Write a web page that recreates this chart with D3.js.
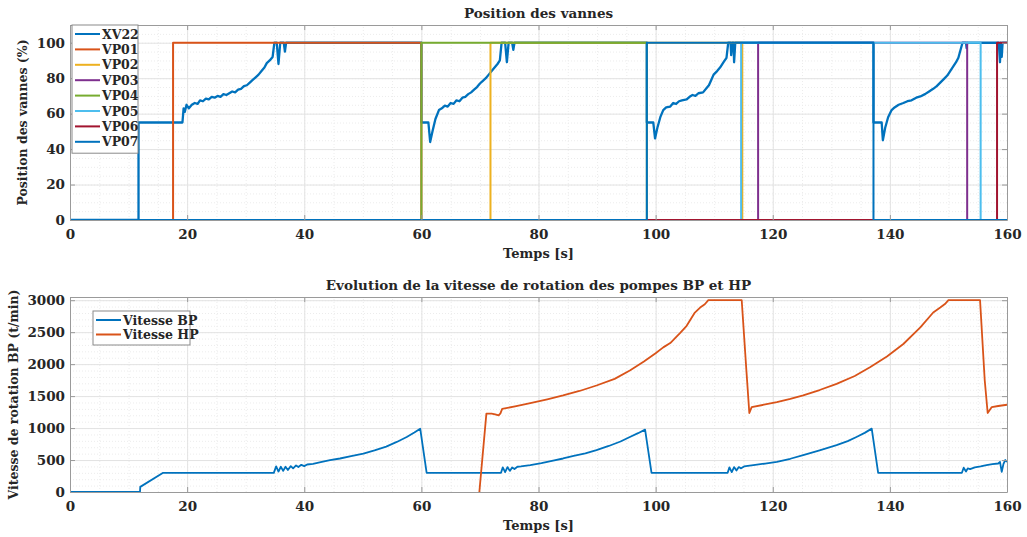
<!DOCTYPE html>
<html>
<head>
<meta charset="utf-8">
<script src="https://cdnjs.cloudflare.com/ajax/libs/d3/7.8.5/d3.min.js"></script>
<style>
    body { margin: 0; background: #fff; }
    text { font-family: "DejaVu Serif", serif; font-weight: bold; fill: #262626; }
    .grid-major line { stroke: #e3e3e3; stroke-width: 1; }
    .grid-minor line { stroke: #ececec; stroke-width: 1; stroke-dasharray: 1,2; }
    .axis path, .axis line { stroke: #9a9a9a; }
</style>
</head>
<body>
<div id="chart"></div>
<script>

// ---- top plot : valve positions [t (s), position (%)] ----
var xv22 = [[0,0],[11.7,0],[11.7,55],[19.2,55],[19.4,63],[19.6,61],[19.9,65],[20.3,63],[20.8,65],[21.3,66],[21.8,65.5],
    [22.2,67.5],[22.7,67],[23.2,68.5],[23.7,68],[24.2,69.5],[24.7,69],[25.2,70],[25.7,69.5],[26.2,71],[26.7,70.5],
    [27.2,71.5],[27.7,72.5],[28.2,72],[28.7,73.5],[29.2,74],[29.7,75.5],[30.2,76],[30.7,77.5],[31.2,79],[31.7,80.5],
    [32.2,82],[32.7,84],[33.2,86],[33.6,88.5],[34.1,90],[34.6,92],[34.9,100],[35.3,100],[35.6,88],[35.9,100],[36.5,100],
    [36.7,95],[36.9,100],[60,100],[60,55],[61.2,55],[61.5,44],[61.9,50],[62.4,57],[63,62],[63.5,63],[64,64.5],[64.5,64],
    [65,66],[65.5,65.5],[66,67.5],[66.5,67],[67,69],[67.5,69.5],[68,71],[68.5,72],[69,73.5],[69.5,75],[70,77],[70.5,78.5],
    [71,80],[71.5,82],[72,84],[72.5,86],[73,88],[73.4,90],[73.7,100],[74.3,100],[74.6,89],[74.9,100],[75.5,100],[75.7,96],
    [75.9,100],[98.5,100],[98.5,55],[99.6,55],[99.9,46],[100.3,52],[100.8,58],[101.3,62],[101.8,63.5],[102.5,64],[103,66],
    [103.5,65.5],[104,67],[104.5,67.5],[105.3,68],[105.8,69.5],[106.3,70.5],[106.8,70],[107.3,71.5],[108.1,72],[108.6,74],
    [109.1,76],[109.5,79],[109.9,82],[110.5,84],[111,86],[111.6,89],[112.1,91.5],[112.4,100],[112.8,100],[112.9,93],
    [113.1,100],[113.3,100],[113.4,89],[113.6,100],[137.2,100],[137.2,55],[138.6,55],[138.8,45],[139.2,52],[139.7,58],
    [140.3,62],[140.8,63.5],[141.5,65],[142.3,66],[143,67],[143.7,67.5],[144.5,69],[145.2,69.7],[146,71],[146.7,72.5],
    [147.4,74],[148,75.5],[148.6,77.5],[149.2,79.5],[149.8,81.5],[150.3,84],[150.8,86.5],[151.3,89],[151.7,91.5],
    [152.4,100],[153,100],[153.1,97],[153.2,100],[158.6,100],[158.8,89],[158.95,100],[159.1,92],[159.25,100],[160,100]];
var vp01 = [[0,0],[17.6,0],[17.6,100],[60,100],[60,0],[160,0]];
var vp02 = [[0,0],[71.8,0],[71.8,100],[114.8,100],[114.8,0],[160,0]];
var vp03 = [[0,0],[117.5,0],[117.5,100],[153.2,100],[153.2,0],[160,0]];
var vp04 = [[0,0],[60,0],[60,100],[98.5,100],[98.5,0],[160,0]];
var vp05 = [[0,0],[114.6,0],[114.6,100],[155.5,100],[155.5,0],[160,0]];
var vp06 = [[0,0],[158.3,0],[158.3,100],[160,100]];
var vp07 = [[0,0],[98.5,0],[98.5,100],[137.2,100],[137.2,0],[160,0]];

var valveNames = ["XV22", "VP01", "VP02", "VP03", "VP04", "VP05", "VP06", "VP07"];
var valveSeries = [xv22, vp01, vp02, vp03, vp04, vp05, vp06, vp07];

// ---- bottom plot : pump speeds [t (s), speed (t/min)] ----
var vitesseBP = [[0,0],[11.95,0],[12,80],[15.9,300],[34.8,300],[35.2,400],[35.6,320],[36,395],[36.4,330],[36.8,395],
    [37.2,345],[37.7,405],[38.1,370],[38.6,415],[39,390],[39.5,425],[40,405],[40.5,430],[41.5,440],[43,470],[44.4,498],
    [46.1,524],[48,560],[50.1,602],[52,650],[54,710],[55.8,783],[57.5,860],[58.8,930],[59.8,990],[60.9,300],[73.6,300],
    [73.9,385],[74.3,310],[74.7,390],[75.1,330],[75.5,385],[75.9,360],[76.4,395],[77,400],[78.6,420],[80.5,450],
    [82.5,490],[84.2,524],[86,565],[88,605],[89.9,654],[92,720],[94,790],[95.6,861],[97,920],[98.2,976],[99.3,300],
    [112.3,300],[112.6,385],[113,310],[113.4,390],[113.8,335],[114.2,390],[114.6,370],[115.1,400],[116.7,420],
    [118.7,445],[120.7,472],[123,520],[125.2,576],[128,650],[130.9,732],[132.8,795],[134.3,861],[135.7,925],
    [136.9,991],[138,300],[152.3,300],[152.6,380],[153,320],[153.3,370],[153.7,358],[154.5,385],[155.5,400],
    [156.5,420],[157.5,435],[158.5,446],[158.8,470],[159.1,316],[159.4,440],[159.7,500],[160,470]];
var vitesseHP = [[69.9,0],[71.1,1225],[72,1225],[72.6,1215],[73.2,1200],[73.5,1230],[73.8,1300],[76,1340],[78.6,1391],
    [81.5,1450],[84.2,1510],[87,1580],[89.9,1666],[93,1770],[95.6,1900],[98,2040],[100,2170],[101.3,2262],[102.5,2330],
    [104.2,2490],[105.3,2600],[106.7,2807],[107.6,2885],[108.4,2937],[109,3000],[114.7,3000],[115.5,1900],[116,1235],
    [116.4,1328],[118.5,1365],[120.7,1406],[123,1455],[125.2,1510],[128,1595],[130.9,1692],[134,1815],[136.6,1951],
    [139.5,2120],[142.3,2315],[145.2,2574],[147.4,2807],[148.6,2885],[149.4,2940],[150,3000],[155.4,3000],
    [156.2,1744],[156.7,1235],[157.4,1328],[158.5,1345],[160,1365]];

var pumpNames = ["Vitesse BP", "Vitesse HP"];
var pumpSeries = [vitesseBP, vitesseHP];

var xTicks = [0, 20, 40, 60, 80, 100, 120, 140, 160];
var valveTicks = [0, 20, 40, 60, 80, 100];
var pumpTicks = [0, 500, 1000, 1500, 2000, 2500, 3000];

// matlab default line colours
var colors = ["#0072BD", "#D95319", "#EDB120", "#7E2F8E", "#77AC30", "#4DBEEE", "#A2142F", "#0072BD"];

var svg = d3.select("#chart").append("svg")
    .attr("width", 1027)
    .attr("height", 537);

function drawPlot(cfg) {
    var g = svg.append("g")
        .attr("transform", "translate(" + cfg.left + "," + cfg.top + ")");

    var x = d3.scaleLinear().domain([0, 160]).range([0, cfg.width]);
    var y = d3.scaleLinear().domain(cfg.yDomain).range([cfg.height, 0]);

    // minor grid
    g.append("g").attr("class", "grid-minor")
        .call(d3.axisBottom(x).tickValues(d3.range(0, 161, 5)).tickSize(-cfg.height).tickFormat(""))
        .attr("transform", "translate(0," + cfg.height + ")")
        .select(".domain").remove();
    g.append("g").attr("class", "grid-minor")
        .call(d3.axisLeft(y).tickValues(d3.range(0, cfg.yDomain[1], cfg.yMinor)).tickSize(-cfg.width).tickFormat(""))
        .select(".domain").remove();

    // major grid
    g.append("g").attr("class", "grid-major")
        .call(d3.axisBottom(x).tickValues(xTicks).tickSize(-cfg.height).tickFormat(""))
        .attr("transform", "translate(0," + cfg.height + ")")
        .select(".domain").remove();
    g.append("g").attr("class", "grid-major")
        .call(d3.axisLeft(y).tickValues(cfg.yTicks).tickSize(-cfg.width).tickFormat(""))
        .select(".domain").remove();

    // clip
    var clipId = "clip-" + cfg.top;
    g.append("clipPath").attr("id", clipId)
        .append("rect").attr("width", cfg.width).attr("height", cfg.height);

    var line = d3.line()
        .x(function(d) { return x(d[0]); })
        .y(function(d) { return y(d[1]); });

    var lines = g.append("g").attr("clip-path", "url(#" + clipId + ")");
    cfg.series.forEach(function(s, i) {
        lines.append("path")
            .datum(s)
            .attr("fill", "none")
            .attr("stroke", cfg.colors[i])
            .attr("stroke-width", cfg.strokes[i])
            .attr("stroke-linejoin", "round")
            .attr("d", line);
    });

    // axes (ticks inside, box all round)
    g.append("g").attr("class", "axis")
        .attr("transform", "translate(0," + cfg.height + ")")
        .call(d3.axisBottom(x).tickValues(xTicks).tickSizeInner(-5).tickSizeOuter(0).tickPadding(9));
    g.append("g").attr("class", "axis")
        .call(d3.axisLeft(y).tickValues(cfg.yTicks).tickSizeInner(-5).tickSizeOuter(0).tickPadding(5)
            .tickFormat(d3.format("d")));
    g.append("g").attr("class", "axis")
        .call(d3.axisTop(x).tickValues(xTicks).tickSizeInner(-5).tickSizeOuter(0).tickFormat(""));
    g.append("g").attr("class", "axis")
        .attr("transform", "translate(" + cfg.width + ",0)")
        .call(d3.axisRight(y).tickValues(cfg.yTicks).tickSizeInner(-5).tickSizeOuter(0).tickFormat(""));

    g.selectAll(".axis text")
        .style("font-family", "DejaVu Serif")
        .style("font-weight", "bold")
        .style("font-size", "13.5px")
        .attr("fill", "#262626");

    // labels
    g.append("text")
        .attr("x", cfg.width / 2)
        .attr("y", -7)
        .attr("text-anchor", "middle")
        .style("font-size", "13.5px")
        .text(cfg.title);
    g.append("text")
        .attr("x", x(80))
        .attr("y", cfg.height + 38)
        .attr("text-anchor", "middle")
        .style("font-size", "13px")
        .text("Temps [s]");
    g.append("text")
        .attr("transform", "translate(" + cfg.yLabelX + "," + (cfg.height / 2) + ") rotate(-90)")
        .attr("text-anchor", "middle")
        .style("font-size", "12.5px")
        .text(cfg.yLabel);

    // legend
    var lg = g.append("g")
        .attr("transform", "translate(" + cfg.legend.x + "," + cfg.legend.y + ")");
    lg.append("rect")
        .attr("width", cfg.legend.w)
        .attr("height", cfg.legend.step * cfg.names.length + 5)
        .attr("fill", "#fff")
        .attr("stroke", "#8a8a8a")
        .attr("stroke-width", 1);
    cfg.names.forEach(function(name, i) {
        var yy = 9 + i * cfg.legend.step;
        lg.append("line")
            .attr("x1", 3).attr("x2", 28)
            .attr("y1", yy).attr("y2", yy)
            .attr("stroke", cfg.colors[i])
            .attr("stroke-width", 2);
        lg.append("text")
            .attr("x", 30)
            .attr("y", yy + 4.5)
            .style("font-size", "12.5px")
            .text(name);
    });
}

drawPlot({
    left: 70, top: 25, width: 937, height: 195,
    yDomain: [0, 110], yTicks: valveTicks, yMinor: 5,
    series: valveSeries, names: valveNames, colors: colors,
    strokes: [2.3, 2, 2, 2, 2, 2, 2, 2],
    title: "Position des vannes",
    yLabel: "Position des vannes (%)", yLabelX: -43,
    legend: { x: 2, y: 0, w: 66, step: 15.4 }
});

drawPlot({
    left: 70, top: 297, width: 937, height: 195,
    yDomain: [0, 3050], yTicks: pumpTicks, yMinor: 100,
    series: pumpSeries, names: pumpNames, colors: colors,
    strokes: [1.8, 1.8],
    title: "Evolution de la vitesse de rotation des pompes BP et HP",
    yLabel: "Vitesse de rotation BP (t/min)", yLabelX: -52,
    legend: { x: 23, y: 14, w: 97, step: 14.5 }
});

</script>
</body>
</html>
